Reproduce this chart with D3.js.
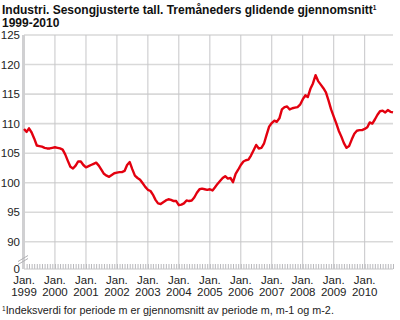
<!DOCTYPE html>
<html>
<head>
<meta charset="utf-8">
<script src="https://cdn.jsdelivr.net/npm/d3@7"></script>
<style>
  body { margin: 0; background: #fff; }
  svg { display: block; font-family: Arial, "Liberation Sans", sans-serif; }
</style>
</head>
<body>
<svg id="chart" width="400" height="320"></svg>
<script>
// tremåneders glidende gjennomsnitt, jan 1999 - des 2010
const years = [1999, 2000, 2001, 2002, 2003, 2004, 2005, 2006, 2007, 2008, 2009, 2010];
const values = [
  109.1, 108.6, 109.2, 108.5, 107.5, 106.3, 106.2, 106.1, 105.9, 105.8, 105.8, 105.9,
  106.0, 105.9, 105.8, 105.6, 104.8, 103.7, 102.7, 102.4, 102.9, 103.6, 103.6, 103.0,
  102.6, 102.8, 103.0, 103.2, 103.4, 102.9, 102.2, 101.5, 101.2, 101.0, 101.3, 101.6,
  101.7, 101.8, 101.8, 102.0, 103.0, 103.5, 102.3, 101.2, 100.8, 100.5, 99.9, 99.3,
  98.8, 98.6, 98.0, 97.1, 96.5, 96.4, 96.7, 97.0, 97.2, 97.1, 96.9, 96.9,
  96.2, 96.3, 96.5, 97.0, 96.9, 97.0, 97.5, 98.3, 98.9, 99.0, 98.9, 98.8,
  98.9, 98.7, 99.2, 99.8, 100.3, 100.8, 101.1, 100.7, 100.8, 100.1, 101.5, 102.2,
  103.0, 103.6, 103.8, 103.9, 104.6, 105.5, 106.4, 105.8, 105.9, 106.6, 108.1, 109.5,
  110.1, 110.5, 110.3, 110.9, 112.4, 112.8, 112.9, 112.4, 112.6, 112.7, 112.8, 113.2,
  114.1, 114.8, 114.5, 115.9, 116.8, 118.2, 117.2, 116.6, 116.0, 115.3, 113.9, 112.4,
  111.2, 110.0, 108.8, 107.8, 106.7, 105.9, 106.2, 107.3, 108.3, 108.8, 108.9, 108.9,
  109.1, 109.4, 110.2, 110.0, 110.7, 111.5, 112.1, 112.2, 111.9, 112.3, 112.0, 111.9
];
const yTicks = [90, 95, 100, 105, 110, 115, 120, 125];
const yTickLabels = ["90", "95", "100", "105", "110", "115", "120", "125"];

const data = values.map((v, i) => ({ date: new Date(1999, i, 1), value: v }));

const svg = d3.select("#chart");
const plotLeft = 24, plotRight = 393, plotTop = 35, plotBottom = 269;

const x = d3.scaleTime()
  .domain([new Date(1999, 0, 1), new Date(2010, 11, 1)])
  .range([plotLeft, plotRight]);

// aksen er brutt: 0 nederst, så 90 og oppover
const y = d3.scaleLinear()
  .domain([85.4, 125])
  .range([plotBottom, plotTop]);

// horisontale gitterlinjer
svg.append("g")
  .selectAll("line")
  .data(yTicks)
  .enter()
  .append("line")
    .attr("x1", plotLeft)
    .attr("x2", plotRight)
    .attr("y1", d => y(d))
    .attr("y2", d => y(d))
    .style("stroke", "#d9d9d9")
    .style("stroke-width", 1.6);

// vertikale gitterlinjer ved januar
svg.append("g")
  .selectAll("line")
  .data(years)
  .enter()
  .append("line")
    .attr("x1", d => x(new Date(d, 0, 1)))
    .attr("x2", d => x(new Date(d, 0, 1)))
    .attr("y1", plotTop)
    .attr("y2", plotBottom)
    .style("stroke", "#c6c6c8")
    .style("stroke-width", 1);

// månedlige tick-merker
const months = d3.timeMonth.range(new Date(1999, 0, 1), new Date(2011, 0, 1));
svg.append("g")
  .selectAll("line")
  .data(months)
  .enter()
  .append("line")
    .attr("x1", d => x(d) + 0.5)
    .attr("x2", d => x(d) + 0.5)
    .attr("y1", plotBottom - 5)
    .attr("y2", plotBottom)
    .style("stroke", "#b8b8bc")
    .style("stroke-width", 1);

// grunnlinje
svg.append("line")
  .attr("x1", plotLeft).attr("x2", plotRight)
  .attr("y1", plotBottom).attr("y2", plotBottom)
  .style("stroke", "#c6c6c8")
  .style("stroke-width", 1);

// y-akse
svg.append("line")
  .attr("x1", plotLeft - 0.5).attr("x2", plotLeft - 0.5)
  .attr("y1", plotTop).attr("y2", plotBottom)
  .style("stroke", "#d0d0d2")
  .style("stroke-width", 3);

// bruddmerke
const brk = svg.append("g").attr("transform", `translate(${plotLeft - 1},${plotBottom - 9})`);
[-1.5, 1.5].forEach(o => {
  brk.append("line")
    .attr("x1", -5).attr("y1", 3 + o)
    .attr("x2", 5).attr("y2", -3 + o)
    .style("stroke", "#b0b0b4")
    .style("stroke-width", 1);
});

// y-etiketter
svg.append("g")
  .selectAll("text")
  .data(yTicks)
  .enter()
  .append("text")
    .attr("x", 20)
    .attr("y", d => y(d) + 4)
    .attr("text-anchor", "end")
    .style("font-size", "11.5px")
    .style("fill", "#222")
    .text((d, i) => yTickLabels[i]);

svg.append("text")
  .attr("x", 20)
  .attr("y", plotBottom + 4)
  .attr("text-anchor", "end")
  .style("font-size", "11.5px")
  .style("fill", "#222")
  .text("0");

// x-etiketter
const xl = svg.append("g")
  .selectAll("g")
  .data(years)
  .enter()
  .append("g")
    .attr("transform", d => `translate(${x(new Date(d, 0, 1))},0)`);
xl.append("text")
  .attr("y", 284)
  .attr("text-anchor", "middle")
  .style("font-size", "11.5px")
  .style("fill", "#222")
  .text("Jan.");
xl.append("text")
  .attr("y", 296)
  .attr("text-anchor", "middle")
  .style("font-size", "11.5px")
  .style("fill", "#222")
  .text(d => d);

// linjen
const line = d3.line()
  .x(d => x(d.date))
  .y(d => y(d.value));

svg.append("path")
  .datum(data)
  .attr("d", line)
  .style("fill", "none")
  .style("stroke", "#e3000f")
  .style("stroke-width", 2.4)
  .style("stroke-linejoin", "round");

// tittel
const title = svg.append("text")
  .attr("x", 2)
  .attr("y", 14)
  .style("font-size", "12px")
  .style("font-weight", "bold")
  .style("fill", "#111");
title.append("tspan").text("Industri. Sesongjusterte tall. Tremåneders glidende gjennomsnitt");
title.append("tspan").attr("dy", -4).style("font-size", "6.5px").text("1");
svg.append("text")
  .attr("x", 2)
  .attr("y", 27)
  .style("font-size", "12px")
  .style("font-weight", "bold")
  .style("fill", "#111")
  .text("1999-2010");

// fotnote
const note = svg.append("text")
  .attr("x", 2)
  .attr("y", 314)
  .style("font-size", "10.8px")
  .style("fill", "#222");
note.append("tspan").attr("dy", -3).style("font-size", "6.5px").text("1");
note.append("tspan").attr("dy", 3).text("Indeksverdi for periode m er gjennomsnitt av periode m, m-1 og m-2.");
</script>
</body>
</html>
